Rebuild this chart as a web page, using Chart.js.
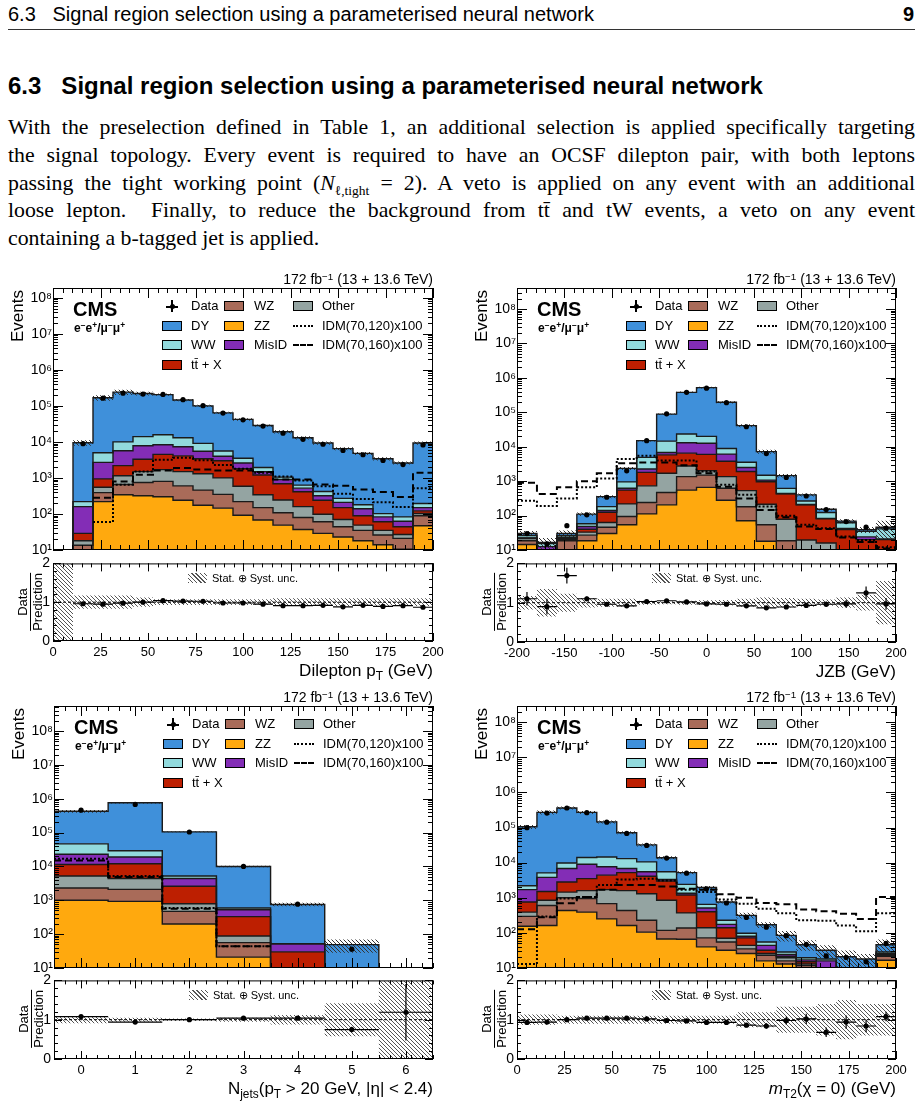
<!DOCTYPE html>
<html>
<head>
<meta charset="utf-8">
<script src="https://cdn.jsdelivr.net/npm/chart.js"></script>
<style>
  body { margin: 0; background: #fff; }
  #page { position: relative; width: 921px; height: 1106px; overflow: hidden; background: #fff;
          font-family: "Liberation Sans", Arial, sans-serif; color: #000; }
  canvas { position: absolute; }
  .a { position: absolute; white-space: nowrap; }
  sup { font-size: 70%; vertical-align: baseline; position: relative; top: -0.45em; }
  sub { font-size: 70%; vertical-align: baseline; position: relative; top: 0.3em; }
  .serif { font-family: "Liberation Serif", "DejaVu Serif", serif; font-size: 21.8px; line-height: 28px;
           width: 907px; left: 8px; text-align: justify; text-align-last: justify; }
  .box { position: absolute; width: 20px; height: 10px; border: 1px solid #000; box-sizing: border-box; }
  .lg { position: absolute; font-size: 13px; line-height: 16px; white-space: nowrap; }
  .hatch { background: repeating-linear-gradient(45deg, #555 0 1px, transparent 1px 3px); }
</style>
</head>
<body>
<div id="page">
  <div class="a" style="left:8px;top:3px;font-size:20px;line-height:22px;">6.3&nbsp;&nbsp;&nbsp;Signal region selection using a parameterised neural network</div>
  <div class="a" style="right:7px;top:3px;font-size:20px;line-height:22px;font-weight:bold;">9</div>
  <div class="a" style="left:8px;top:29px;width:907px;height:1px;background:#333;"></div>
  <div class="a" style="left:8px;top:72px;font-size:24px;line-height:28px;font-weight:bold;">6.3&nbsp;&nbsp;&nbsp;Signal region selection using a parameterised neural network</div>
  <div class="a serif" style="top:113px;">With the preselection defined in Table 1, an additional selection is applied specifically targeting</div>
  <div class="a serif" style="top:141px;">the signal topology. Every event is required to have an OCSF dilepton pair, with both leptons</div>
  <div class="a serif" style="top:169px;">passing the tight working point (<span style="display:inline-block"><i>N</i><sub style="font-size:62%;top:0.35em">ℓ,tight</sub></span> = 2). A veto is applied on any event with an additional</div>
  <div class="a serif" style="top:196px;">loose lepton.&nbsp; Finally, to reduce the background from tt̄ and tW events, a veto on any event</div>
  <div class="a serif" style="top:224px;text-align-last:left;">containing a b-tagged jet is applied.</div>
</div>
<script>
// ---- dilepton pT (19 bins, 0-200 GeV) ----
const ptZZ    = [0, 3, 220, 340, 320, 300, 240, 175, 145, 92, 68, 49, 37, 29, 23, 18, 14, 10.5, 47];
const ptWZ    = [0, 10.5, 170, 320, 430, 500, 360, 285, 205, 128, 82, 59, 43, 32, 21, 17, 12, 10.5, 42];
const ptOther = [0, 4.5, 160, 490, 750, 900, 900, 840, 650, 370, 190, 137, 80, 37, 26, 14, 9, 6, 14];
const ptTTX   = [0, 11, 390, 1050, 1800, 2800, 2600, 2100, 2000, 1210, 860, 445, 255, 142, 80, 40, 26, 17, 19];
const ptMisID = [0, 131, 1760, 3500, 4500, 3800, 3200, 2100, 1000, 800, 300, 210, 105, 80, 60, 51, 22, 19, 28];
const ptWW    = [0, 60, 2300, 4300, 6200, 7500, 5700, 3600, 1600, 900, 450, 150, 110, 100, 60, 40, 19, 20, 45];
const ptDY    = [0, 9200, 163000, 230000, 206000, 189000, 132000, 91000, 58400, 38500, 26500, 18000, 12400, 8900, 6230, 4620, 3300, 2520, 9100];
const ptData  = [null, 8900, 163000, 225000, 212000, 208000, 148000, 101000, 63000, 41000, 27500, 17500, 11800, 8600, 5800, 4400, 3050, 2350, 8200];
const ptSig120 = [null, null, 60, 650, 1500, 3200, 3600, 3100, 2300, 1800, 1400, 1100, 850, 590, 365, 260, 212, 155, 520];
const ptSig160 = [null, null, 280, 800, 1230, 1600, 1900, 1700, 1600, 1600, 1450, 900, 900, 660, 610, 480, 405, 295, 1400];
const ptRatio    = [null, 0.96, 0.95, 0.975, 1.0, 1.04, 1.03, 1.025, 0.98, 0.98, 0.95, 0.91, 0.91, 0.92, 0.88, 0.92, 0.89, 0.91, 0.87];
const ptRatioErr = [0, 0.02, 0.01, 0.01, 0.01, 0.01, 0.01, 0.01, 0.01, 0.01, 0.01, 0.01, 0.01, 0.015, 0.015, 0.02, 0.02, 0.02, 0.015];
const ptUnc      = [1, 0.17, 0.17, 0.17, 0.12, 0.075, 0.075, 0.075, 0.075, 0.075, 0.075, 0.1, 0.1, 0.1, 0.1, 0.1, 0.1, 0.1, 0.1];
const ptTicks = [0, 25, 50, 75, 100, 125, 150, 175, 200];

// ---- JZB (19 bins, -200-200 GeV) ----
const jzbZZ    = [14.5, 2, 10, 18.5, 30, 54, 112, 205, 550, 660, 280, 71, 18, 0, 0, 0, 0, 0, 0];
const jzbWZ    = [4, 3, 8.5, 8.5, 16, 40, 128, 265, 800, 840, 340, 109, 36, 18.5, 2, 0, 0, 0, 0];
const jzbOther = [3, 2, 1.5, 6, 17, 124, 490, 1230, 1400, 500, 730, 350, 159, 60, 17.5, 16, 4, 2, 1];
const jzbTTX   = [0.5, 2, 1.5, 7, 62, 332, 1070, 4100, 3750, 4000, 2450, 1370, 750, 350, 185, 65, 35, 18, 19];
const jzbMisID = [0.5, 3.5, 1.5, 8, 15, 70, 450, 1000, 6500, 6600, 2300, 600, 110, 10, 5, 2, 3, 4, 1];
const jzbWW    = [4, 3, 3, 10, 42, 330, 2650, 7700, 10500, 7400, 2800, 1050, 410, 180, 55, 40, 20, 11, 20];
const jzbDY    = [4, 1, 4, 52, 173, 1400, 10100, 74000, 356000, 500000, 186000, 37500, 5700, 830, 135, 30, 7, 4, 5];
const jzbData  = [30, 15, 51, 105, 340, 2000, 15000, 90000, 380000, 500000, 190000, 38000, 6300, 1280, 370, 150, 67, 46, 43];
const jzbSig120 = [270, 190, 315, 660, 1200, 4400, 5500, 4000, 4000, 1900, 780, 400, 183, 98, 54, 43, 24.5, 19.5, 12];
const jzbSig160 = [900, 425, 660, 1000, 1700, 3300, 3500, 3500, 2900, 1700, 690, 315, 145, 89, 48, 41, 23, 17, 11];
const jzbRatio    = [1.1, 0.9, 1.69, 1.1, 0.96, 0.92, 1.03, 1.05, 1.02, 0.97, 0.96, 0.92, 0.87, 0.89, 0.93, 0.96, 0.97, 1.25, 0.97];
const jzbRatioErr = [0.17, 0.2, 0.2, 0.06, 0.03, 0.02, 0.01, 0.01, 0.01, 0.01, 0.01, 0.01, 0.02, 0.03, 0.05, 0.07, 0.1, 0.16, 0.15];
const jzbUnc      = [0.17, 0.35, 0.23, 0.12, 0.1, 0.1, 0.05, 0.04, 0.05, 0.06, 0.07, 0.1, 0.13, 0.12, 0.1, 0.08, 0.13, 0.2, 0.55];
const jzbTicks = [-200, -150, -100, -50, 0, 50, 100, 150, 200];

// ---- Njets (7 bins, 0-6) ----
const njZZ    = [1000, 930, 200, 21, 0, 0, 0];
const njWZ    = [1300, 1170, 270, 35, 0, 0, 0];
const njOther = [2900, 2300, 320, 32, 0, 0, 0];
const njTTX   = [6200, 7600, 1810, 242, 30, 0, 0];
const njMisID = [11600, 7000, 1800, 195, 22, 0, 0];
const njWW    = [23500, 10000, 800, 65, 0, 0, 0];
const njDY    = [380000, 730000, 100000, 9400, 700, 49, 0];
const njData  = [460000, 680000, 104000, 10000, 770, 36, null];
const njSig120 = [17000, 5200, 590, 44, null, null, null];
const njSig160 = [15000, 4900, 560, 44, null, null, null];
const njRatio    = [1.08, 0.94, 1.0, 1.04, 1.04, 0.75, 1.19];
const njRatioErr = [0.005, 0.005, 0.005, 0.01, 0.04, 0.07, 0.72];
const njUnc      = [0.09, 0.05, 0.03, 0.05, 0.12, 0.42, 1];
const njTicks = [0, 1, 2, 3, 4, 5, 6];

// ---- mT2 (19 bins, 0-200 GeV) ----
const mtZZ    = [155, 163, 435, 390, 250, 163, 105, 67, 66, 40, 32, 26, 16, 13, 10, 3, 2, 1, 16.6];
const mtWZ    = [140, 437, 565, 560, 430, 272, 125, 51, 72, 32, 23, 9, 7, 3, 1.7, 2, 1, 1, 5];
const mtOther = [95, 250, 450, 650, 1020, 1165, 1070, 732, 232, 68, 15, 9, 3, 3.5, 1.3, 1, 1, 1, 1];
const mtTTX   = [370, 650, 1350, 1900, 2700, 3600, 2800, 2150, 830, 260, 70, 28, 6, 2, 2, 2, 1, 1, 2];
const mtMisID = [940, 2300, 4000, 5500, 3200, 1600, 1400, 300, 150, 110, 35, 8, 12, 3, 2, 8, 1, 1, 1];
const mtWW    = [500, 1300, 3000, 5000, 6900, 6200, 5000, 2200, 1050, 140, 55, 18, 11, 4, 2.5, 2, 1, 1, 2.9];
const mtDY    = [102800, 264900, 350200, 256000, 130500, 58000, 21500, 8300, 2800, 1300, 530, 217, 115, 56.5, 26.5, 14, 14, 12, 17.5];
const mtData  = [99000, 258000, 360000, 265000, 142000, 68000, 31000, 13500, 5000, 1800, 710, 275, 145, 83, 47, 22, 20, 15, 50];
const mtSig120 = [13, 295, 950, 1050, 2300, 3300, 3500, 3100, 1700, 1450, 890, 680, 490, 365, 230, 220, 163, 112, 365];
const mtSig160 = [126, 280, 700, 1050, 1700, 2300, 2300, 2100, 1800, 1700, 1260, 1000, 710, 650, 460, 415, 350, 250, 1050];
const mtRatio    = [0.93, 0.94, 1.0, 1.04, 1.04, 1.04, 1.02, 0.98, 0.97, 0.93, 0.93, 0.86, 0.84, 0.98, 1.02, 0.68, 0.94, 0.84, 1.08];
const mtRatioErr = [0.005, 0.005, 0.005, 0.005, 0.005, 0.005, 0.01, 0.01, 0.015, 0.02, 0.03, 0.05, 0.07, 0.1, 0.13, 0.12, 0.17, 0.16, 0.12];
const mtUnc      = [0.13, 0.13, 0.1, 0.1, 0.1, 0.1, 0.1, 0.1, 0.1, 0.1, 0.1, 0.19, 0.19, 0.33, 0.33, 0.4, 0.5, 0.4, 0.4];
const mtTicks = [0, 25, 50, 75, 100, 125, 150, 175, 200];

const procNames  = ['ZZ', 'WZ', 'Other', 'ttX', 'MisID', 'WW', 'DY'];
const procColors = { ZZ: '#ffa90e', WZ: '#a96b59', Other: '#94a4a2', ttX: '#bd1f01', MisID: '#832db6', WW: '#92dadd', DY: '#3f90da' };
const decades = [1e1, 1e2, 1e3, 1e4, 1e5, 1e6, 1e7, 1e8];

const panels = [
  { L: 53, R: 433, T: 288, B: 550, RT: 562, RB: 641, xmin: 0, xmax: 200, ytop: 8.27, ticks: ptTicks, minor: 5,
    title: 'Dilepton p<sub>T</sub> (GeV)',
    stack: [ptZZ, ptWZ, ptOther, ptTTX, ptMisID, ptWW, ptDY], data: ptData, s120: ptSig120, s160: ptSig160,
    ratio: ptRatio, rerr: ptRatioErr, unc: ptUnc },
  { L: 517, R: 896, T: 288, B: 550, RT: 562, RB: 642, xmin: -200, xmax: 200, ytop: 8.61, ticks: jzbTicks, minor: 10,
    title: 'JZB (GeV)',
    stack: [jzbZZ, jzbWZ, jzbOther, jzbTTX, jzbMisID, jzbWW, jzbDY], data: jzbData, s120: jzbSig120, s160: jzbSig160,
    ratio: jzbRatio, rerr: jzbRatioErr, unc: jzbUnc },
  { L: 54, R: 433, T: 706, B: 968, RT: 979, RB: 1059, xmin: -0.5, xmax: 6.5, ytop: 8.74, ticks: njTicks, minor: 0.2,
    title: 'N<sub>jets</sub>(p<sub>T</sub> &gt; 20 GeV, |η| &lt; 2.4)',
    stack: [njZZ, njWZ, njOther, njTTX, njMisID, njWW, njDY], data: njData, s120: njSig120, s160: njSig160,
    ratio: njRatio, rerr: njRatioErr, unc: njUnc },
  { L: 517, R: 896, T: 706, B: 968, RT: 979, RB: 1059, xmin: 0, xmax: 200, ytop: 8.46, ticks: mtTicks, minor: 5,
    title: '<i>m</i><sub>T2</sub>(χ = 0) (GeV)',
    stack: [mtZZ, mtWZ, mtOther, mtTTX, mtMisID, mtWW, mtDY], data: mtData, s120: mtSig120, s160: mtSig160,
    ratio: mtRatio, rerr: mtRatioErr, unc: mtUnc }
];

Chart.defaults.font.family = '"Liberation Sans", Arial, sans-serif';
Chart.defaults.color = '#000';

function hatch(color, size) {
  const c = document.createElement('canvas');
  c.width = size; c.height = size;
  const g = c.getContext('2d');
  g.strokeStyle = color; g.lineWidth = 1;
  g.beginPath();
  g.moveTo(0, 0); g.lineTo(size, size);
  g.moveTo(-1, size - 1); g.lineTo(1, size + 1);
  g.moveTo(size - 1, -1); g.lineTo(size + 1, 1);
  g.stroke();
  return g.createPattern(c, 'repeat');
}
const hatchMain = hatch('#333', 4);
const hatchRatio = hatch('#555', 4);

// histogram outline: two points per bin, null -> gap
function steps(vals, edges, floor) {
  const pts = [];
  vals.forEach((v, i) => {
    let y = (v === null || v === undefined) ? null : v;
    if (y !== null && floor !== undefined) y = Math.max(y, floor);
    pts.push({ x: edges[i], y }, { x: edges[i + 1], y });
  });
  return pts;
}

const sup = n => String(n).split('').map(d => '⁰¹²³⁴⁵⁶⁷⁸⁹'[+d]).join('');

const framePlugin = {
  id: 'frame',
  afterDatasetsDraw(chart, args, o) {
    const { ctx, chartArea: a, scales } = chart;
    const x = scales.x, y = scales.y;
    ctx.save();
    ctx.strokeStyle = '#000';
    ctx.lineWidth = 1;
    ctx.beginPath();
    const xt = (v, len) => {
      const p = Math.round(x.getPixelForValue(v)) + 0.5;
      ctx.moveTo(p, a.bottom); ctx.lineTo(p, a.bottom - len);
      ctx.moveTo(p, a.top); ctx.lineTo(p, a.top + len);
    };
    const yt = (v, len) => {
      const p = Math.round(y.getPixelForValue(v)) + 0.5;
      ctx.moveTo(a.left, p); ctx.lineTo(a.left + len, p);
      ctx.moveTo(a.right, p); ctx.lineTo(a.right - len, p);
    };
    o.ticks.forEach(v => xt(v, o.major));
    for (let v = x.min; v <= x.max + 1e-9; v += o.minorStep) xt(v, o.major / 2);
    if (o.log) {
      decades.forEach(d => {
        yt(d, o.major);
        for (let m = 2; m < 10; m++) if (d * m < y.max) yt(d * m, o.major / 2);
      });
    } else {
      [0, 1, 2].forEach(v => yt(v, o.major));
      for (let v = 0.2; v < 2; v += 0.2) yt(v, o.major / 2);
    }
    ctx.stroke();
    ctx.strokeRect(a.left + 0.5, a.top + 0.5, a.width - 1, a.height - 1);
    ctx.restore();
  }
};

const page = document.getElementById('page');

function addCanvas(left, top, w, h) {
  const c = document.createElement('canvas');
  c.width = w; c.height = h;
  c.style.left = left + 'px'; c.style.top = top + 'px';
  c.style.width = w + 'px'; c.style.height = h + 'px';
  page.appendChild(c);
  return c;
}

const PAD = 10;   // room above/below the frame for the edge tick labels

function baseOptions(p, yScale, xDisplay, frameOpts) {
  return {
    responsive: false, animation: false, events: [], devicePixelRatio: 1,
    layout: { padding: { top: PAD, right: 21, bottom: xDisplay ? 0 : PAD, left: 0 } },
    plugins: { legend: { display: false }, tooltip: { enabled: false },
               filler: { drawTime: 'beforeDatasetsDraw' }, frame: frameOpts },
    elements: { point: { radius: 0, hoverRadius: 0 }, line: { tension: 0 } },
    scales: {
      x: {
        type: 'linear', min: p.xmin, max: p.xmax, display: xDisplay,
        grid: { display: false, drawTicks: false }, border: { display: false },
        afterBuildTicks: s => { s.ticks = p.ticks.map(v => ({ value: v })); },
        afterFit: s => { if (xDisplay) s.height = 21; },
        ticks: { autoSkip: false, maxRotation: 0, padding: 4, font: { size: 13 }, color: '#000' }
      },
      y: yScale
    }
  };
}

panels.forEach(p => {
  const n = p.stack[0].length;
  const edges = Array.from({ length: n + 1 }, (_, i) => p.xmin + i * (p.xmax - p.xmin) / n);
  const centers = edges.slice(0, -1).map((e, i) => (e + edges[i + 1]) / 2);

  // stacked cumulative sums (library table built from the per-process arrays)
  const cum = [];
  let run = new Array(n).fill(0);
  p.stack.forEach(s => { run = run.map((r, i) => r + s[i]); cum.push(run.slice()); });
  const total = cum[cum.length - 1];
  const FLOOR = 1e-3;

  // ---------- main panel ----------
  const ds = [];
  ds.push({ data: centers.map((c, i) => ({ x: c, y: p.data[i] })), showLine: false,
            pointRadius: 2.6, pointBackgroundColor: '#000', pointBorderWidth: 0 });
  ds.push({ data: steps(p.s120, edges), borderColor: '#000', borderWidth: 2, borderDash: [2, 2], fill: false });
  ds.push({ data: steps(p.s160, edges), borderColor: '#000', borderWidth: 2, borderDash: [7, 4], fill: false });
  ds.push({ data: steps(total.map((t, i) => t * (1 + p.unc[i])), edges, FLOOR), borderWidth: 0,
            backgroundColor: hatchMain, fill: 4 });
  ds.push({ data: steps(total.map((t, i) => t * (1 - p.unc[i])), edges, FLOOR), borderWidth: 0, fill: false });
  for (let k = cum.length - 1; k >= 0; k--) {
    const idx = ds.length;
    ds.push({ data: steps(cum[k], edges, FLOOR), borderColor: '#1a1a1a', borderWidth: 1.4,
              backgroundColor: procColors[procNames[k]], fill: k > 0 ? idx + 1 : 'start' });
  }

  const W = 50 + (p.R - p.L) + 21;
  const mainCanvas = addCanvas(p.L - 50, p.T - PAD, W, p.B - p.T + 2 * PAD);
  const yMain = {
    type: 'logarithmic', min: 10, max: Math.pow(10, p.ytop),
    grid: { display: false, drawTicks: false }, border: { display: false },
    afterBuildTicks: s => { s.ticks = decades.map(v => ({ value: v })); },
    afterFit: s => { s.width = 50; },
    ticks: { padding: 1, font: { size: 14 }, color: '#000',
             callback: v => '10' + sup(Math.round(Math.log10(v))) }
  };
  new Chart(mainCanvas, {
    type: 'line',
    data: { datasets: ds },
    options: baseOptions(p, yMain, false, { ticks: p.ticks, minorStep: p.minor, major: 10, log: true }),
    plugins: [framePlugin]
  });

  // ---------- ratio panel ----------
  const hb = [], vb = [];
  p.ratio.forEach((r, i) => {
    if (r === null) return;
    hb.push({ x: edges[i], y: r }, { x: edges[i + 1], y: r }, { x: edges[i + 1], y: null });
    vb.push({ x: centers[i], y: r - p.rerr[i] }, { x: centers[i], y: r + p.rerr[i] }, { x: centers[i], y: null });
  });
  const rds = [
    { data: centers.map((c, i) => ({ x: c, y: p.ratio[i] })), showLine: false,
      pointRadius: 2.6, pointBackgroundColor: '#000', pointBorderWidth: 0 },
    { data: hb, borderColor: '#000', borderWidth: 1.2, fill: false },
    { data: vb, borderColor: '#000', borderWidth: 1.2, fill: false },
    { data: [{ x: p.xmin, y: 1 }, { x: p.xmax, y: 1 }], borderColor: '#000', borderWidth: 1, borderDash: [3, 2], fill: false },
    { data: steps(p.unc.map(u => 1 + u), edges), borderWidth: 0, backgroundColor: hatchRatio, fill: 5 },
    { data: steps(p.unc.map(u => 1 - u), edges), borderWidth: 0, fill: false }
  ];
  const ratioCanvas = addCanvas(p.L - 50, p.RT - PAD, W, p.RB - p.RT + PAD + 21);
  const yRatio = {
    type: 'linear', min: 0, max: 2,
    grid: { display: false, drawTicks: false }, border: { display: false },
    afterBuildTicks: s => { s.ticks = [0, 1, 2].map(v => ({ value: v })); },
    afterFit: s => { s.width = 50; },
    ticks: { padding: 3, font: { size: 14 }, color: '#000' }
  };
  new Chart(ratioCanvas, {
    type: 'line',
    data: { datasets: rds },
    options: baseOptions(p, yRatio, true, { ticks: p.ticks, minorStep: p.minor, major: 8, log: false }),
    plugins: [framePlugin]
  });

  // ---------- text overlays ----------
  const L = p.L, T = p.T;
  const col = [109, 171, 240], lab = [138, 201, 269], rows = [18, 37.5, 57, 77];
  const box = (c, r, style) => `<div class="box" style="left:${L + col[c]}px;top:${T + rows[r] - 5}px;${style}"></div>`;
  const text = (c, r, s) => `<div class="lg" style="left:${L + lab[c]}px;top:${T + rows[r] - 8}px;">${s}</div>`;
  const lineMark = (c, r, style) => `<div class="a" style="left:${L + col[c]}px;top:${T + rows[r] - 1}px;width:20px;height:0;border-top:2px ${style} #000;"></div>`;
  let h = '';
  h += `<div class="a" style="right:${921 - p.R}px;top:${T - 17}px;font-size:14px;line-height:16px;">172 fb<sup>−1</sup> (13 + 13.6 TeV)</div>`;
  h += `<div class="a" style="left:${L + 20}px;top:${T + 10}px;font-size:20px;line-height:22px;font-weight:bold;">CMS</div>`;
  h += `<div class="a" style="left:${L + 21}px;top:${T + 32}px;font-size:12px;line-height:16px;font-weight:bold;">e<sup>−</sup>e<sup>+</sup>/μ<sup>−</sup>μ<sup>+</sup></div>`;
  // data marker
  h += `<div class="a" style="left:${L + col[0] + 4}px;top:${T + rows[0]}px;width:12px;height:1.5px;background:#000;"></div>`;
  h += `<div class="a" style="left:${L + col[0] + 9.25}px;top:${T + rows[0] - 6}px;width:1.5px;height:12px;background:#000;"></div>`;
  h += `<div class="a" style="left:${L + col[0] + 7.5}px;top:${T + rows[0] - 1.7}px;width:5px;height:5px;border-radius:50%;background:#000;"></div>`;
  h += text(0, 0, 'Data');
  h += box(0, 1, 'background:' + procColors.DY) + text(0, 1, 'DY');
  h += box(0, 2, 'background:' + procColors.WW) + text(0, 2, 'WW');
  h += box(0, 3, 'background:' + procColors.ttX) + text(0, 3, 'tt̄ + X');
  h += box(1, 0, 'background:' + procColors.WZ) + text(1, 0, 'WZ');
  h += box(1, 1, 'background:' + procColors.ZZ) + text(1, 1, 'ZZ');
  h += box(1, 2, 'background:' + procColors.MisID) + text(1, 2, 'MisID');
  h += box(2, 0, 'background:' + procColors.Other) + text(2, 0, 'Other');
  h += lineMark(2, 1, 'dotted') + text(2, 1, 'IDM(70,120)x100');
  h += lineMark(2, 2, 'dashed') + text(2, 2, 'IDM(70,160)x100');
  // axis titles
  h += `<div class="a" style="left:${L - 44}px;top:${T + 2}px;writing-mode:vertical-rl;transform:rotate(180deg);font-size:17px;line-height:18px;">Events</div>`;
  const mid = (p.RT + p.RB) / 2;
  h += `<div class="a" style="left:${L - 37}px;top:${mid - 29}px;writing-mode:vertical-rl;transform:rotate(180deg);font-size:13px;line-height:14px;text-align:center;">` +
       `<div>Data</div><div style="border-right:1.5px solid #000;">Prediction</div></div>`;
  h += `<div class="a hatch" style="left:${L + 135}px;top:${p.RT + 11}px;width:19px;height:10px;"></div>`;
  h += `<div class="a" style="left:${L + 159}px;top:${p.RT + 9}px;font-size:11px;line-height:14px;">Stat. ⊕ Syst. unc.</div>`;
  h += `<div class="a" style="right:${921 - p.R}px;top:${p.RB + 20}px;font-size:17px;line-height:20px;">${p.title}</div>`;
  page.insertAdjacentHTML('beforeend', h);
});
</script>
</body>
</html>
